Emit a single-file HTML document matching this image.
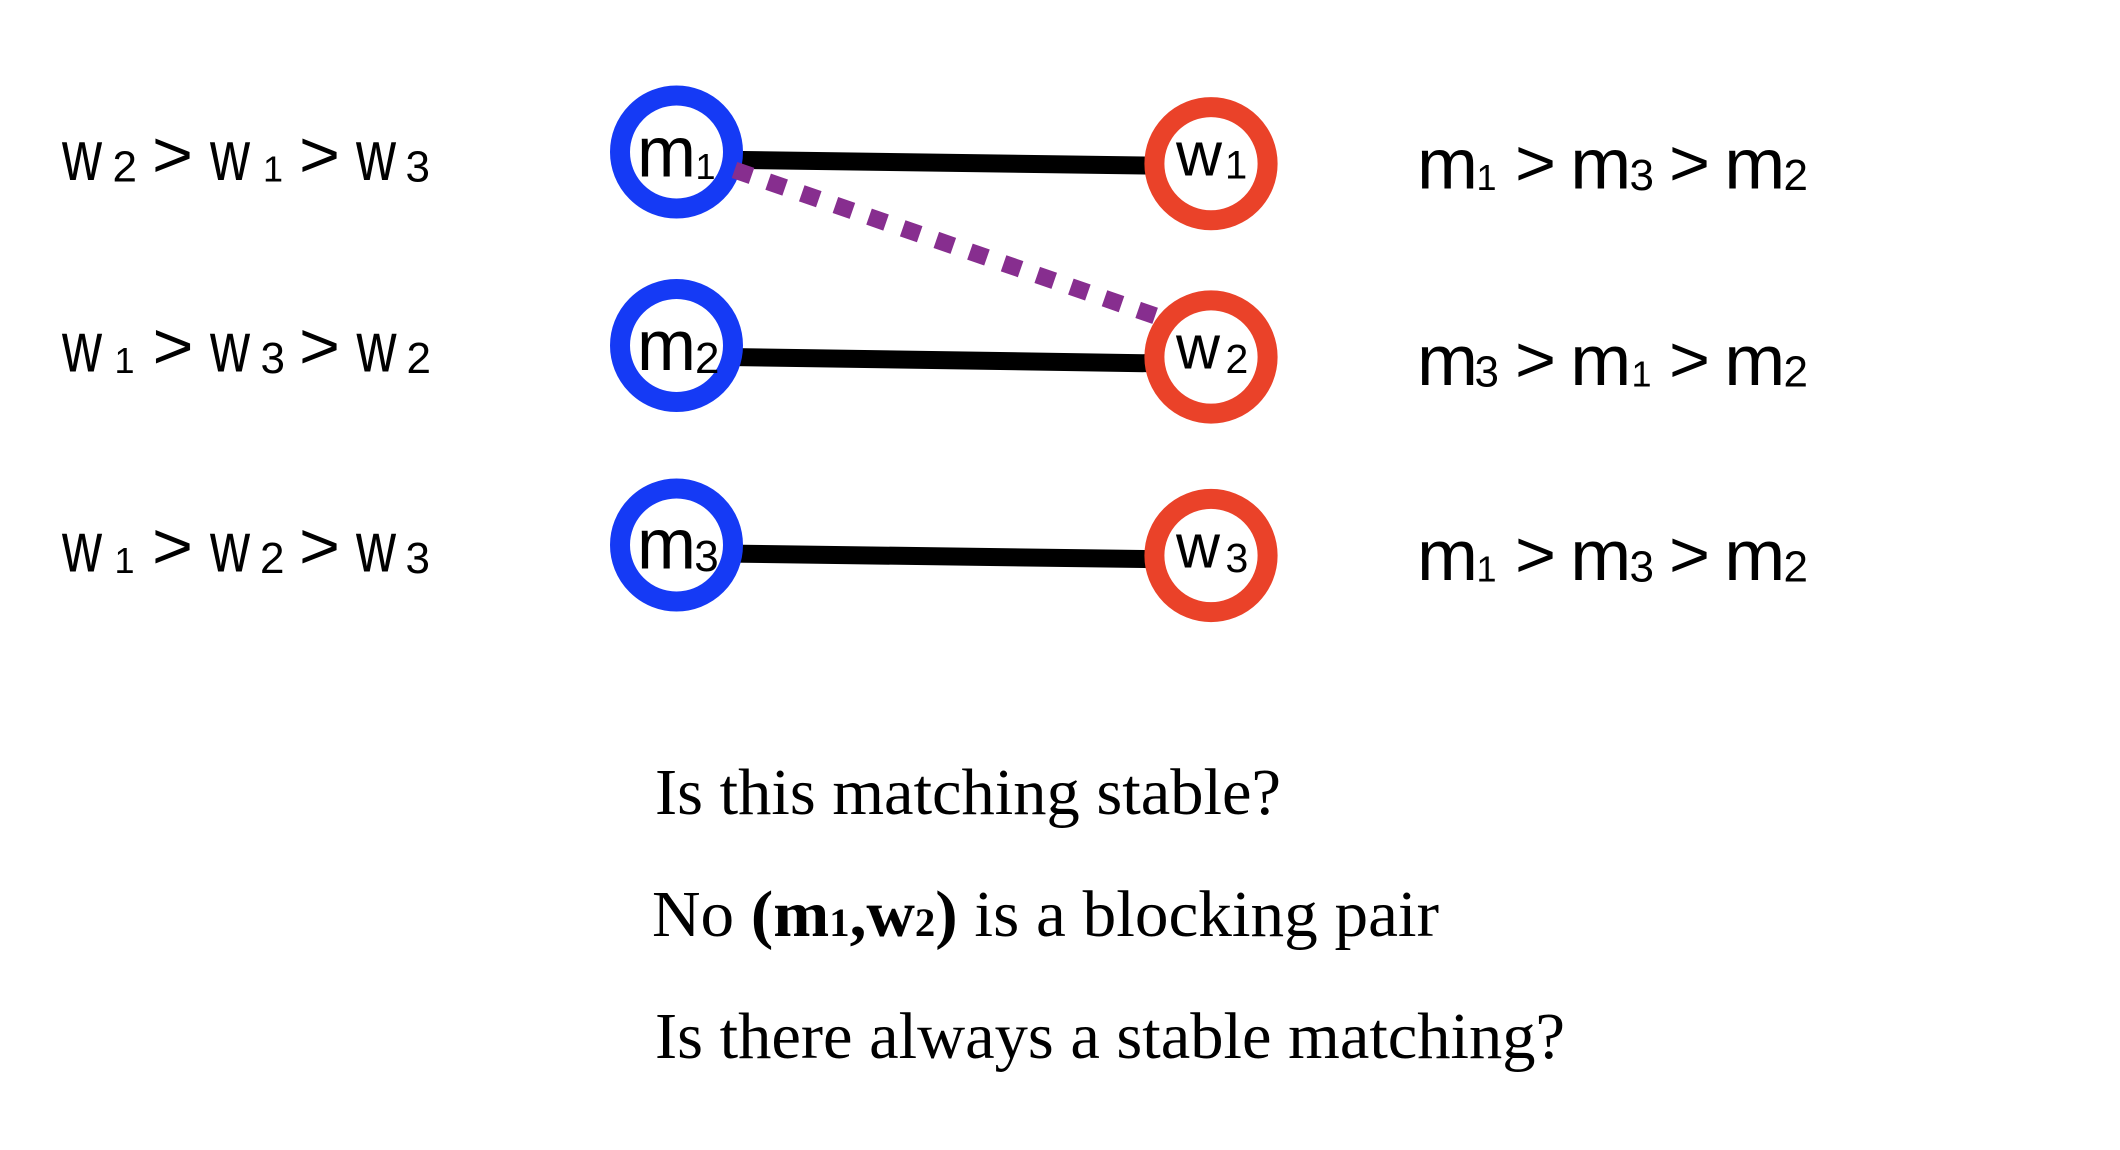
<!DOCTYPE html>
<html>
<head>
<meta charset="utf-8">
<style>
  html, body { margin: 0; padding: 0; background: #ffffff; }
  body { width: 2120px; height: 1150px; overflow: hidden; }
  svg { display: block; }
  .s { font-family: "Liberation Sans", Arial, sans-serif; fill: #000; }
  .L { font-size: 71px; }
  .LW { font-size: 62px; }
  .D { font-size: 44px; }
  .DW { font-size: 41px; }
  .O { font-size: 36px; }
  .OW { font-size: 40px; }
  .G { font-size: 66px; }
  .t { font-family: "Liberation Serif", "Times New Roman", serif; font-size: 66px; fill: #000; }
</style>
</head>
<body>
<svg width="2120" height="1150" viewBox="0 0 2120 1150" xmlns="http://www.w3.org/2000/svg">
  <rect x="0" y="0" width="2120" height="1150" fill="#ffffff"/>

  <!-- matching edges -->
  <line x1="676.5" y1="159.1" x2="1211" y2="166.4" stroke="#000" stroke-width="18"/>
  <line x1="676.5" y1="356.2" x2="1211" y2="364.2" stroke="#000" stroke-width="18"/>
  <line x1="676.5" y1="552.9" x2="1211" y2="559.9" stroke="#000" stroke-width="18"/>

  <!-- m nodes -->
  <circle cx="676.5" cy="152" r="56.5" fill="#ffffff" stroke="#153AF5" stroke-width="20"/>
  <circle cx="676.5" cy="345.5" r="56.5" fill="#ffffff" stroke="#153AF5" stroke-width="20"/>
  <circle cx="676.5" cy="545" r="56.5" fill="#ffffff" stroke="#153AF5" stroke-width="20"/>

  <!-- blocking pair dotted line -->
  <line x1="734.5" y1="170" x2="1162" y2="318.2" stroke="#872E8F" stroke-width="17" stroke-dasharray="18 17.6"/>

  <!-- w nodes -->
  <circle cx="1211" cy="163.7" r="56.6" fill="#ffffff" stroke="#EA4229" stroke-width="20"/>
  <circle cx="1211" cy="357" r="56.6" fill="#ffffff" stroke="#EA4229" stroke-width="20"/>
  <circle cx="1211" cy="555.5" r="56.6" fill="#ffffff" stroke="#EA4229" stroke-width="20"/>

  <!-- node labels: m -->
  <text class="s L" x="637" y="176.7" textLength="59" lengthAdjust="spacingAndGlyphs">m</text>
  <text class="s O" x="695.5" y="179">1</text>
  <text class="s L" x="637" y="370" textLength="59" lengthAdjust="spacingAndGlyphs">m</text>
  <text class="s D" x="695" y="373">2</text>
  <text class="s L" x="637" y="568.3" textLength="59" lengthAdjust="spacingAndGlyphs">m</text>
  <text class="s D" x="694.2" y="571">3</text>

  <!-- node labels: w -->
  <text class="s LW" x="1176" y="175.5" textLength="46" lengthAdjust="spacingAndGlyphs">w</text>
  <text class="s OW" x="1225" y="178.5">1</text>
  <text class="s LW" x="1176" y="368.3" textLength="44" lengthAdjust="spacingAndGlyphs">w</text>
  <text class="s DW" x="1225.5" y="373">2</text>
  <text class="s LW" x="1176" y="567.3" textLength="44" lengthAdjust="spacingAndGlyphs">w</text>
  <text class="s DW" x="1225.5" y="572">3</text>

  <!-- left preference lists -->
  <!-- row 1: w2 > w1 > w3 -->
  <text class="s L" x="62" y="180" textLength="40" lengthAdjust="spacingAndGlyphs">w</text>
  <text class="s D" x="112.5" y="181.5">2</text>
  <text class="s G" x="152" y="177" textLength="41" lengthAdjust="spacingAndGlyphs">&gt;</text>
  <text class="s L" x="210" y="180" textLength="40" lengthAdjust="spacingAndGlyphs">w</text>
  <text class="s O" x="263" y="181.5">1</text>
  <text class="s G" x="299" y="177" textLength="41" lengthAdjust="spacingAndGlyphs">&gt;</text>
  <text class="s L" x="356" y="180" textLength="40" lengthAdjust="spacingAndGlyphs">w</text>
  <text class="s D" x="405.5" y="181.5">3</text>

  <!-- row 2: w1 > w3 > w2 -->
  <text class="s L" x="62" y="371.7" textLength="40" lengthAdjust="spacingAndGlyphs">w</text>
  <text class="s O" x="114.5" y="373.2">1</text>
  <text class="s G" x="152.5" y="368.7" textLength="41" lengthAdjust="spacingAndGlyphs">&gt;</text>
  <text class="s L" x="210" y="371.7" textLength="40" lengthAdjust="spacingAndGlyphs">w</text>
  <text class="s D" x="260.5" y="373.2">3</text>
  <text class="s G" x="299" y="368.7" textLength="41" lengthAdjust="spacingAndGlyphs">&gt;</text>
  <text class="s L" x="356.5" y="371.7" textLength="40" lengthAdjust="spacingAndGlyphs">w</text>
  <text class="s D" x="406.5" y="373.2">2</text>

  <!-- row 3: w1 > w2 > w3 -->
  <text class="s L" x="62" y="571.7" textLength="40" lengthAdjust="spacingAndGlyphs">w</text>
  <text class="s O" x="114.5" y="573.2">1</text>
  <text class="s G" x="152" y="568.7" textLength="41" lengthAdjust="spacingAndGlyphs">&gt;</text>
  <text class="s L" x="210" y="571.7" textLength="40" lengthAdjust="spacingAndGlyphs">w</text>
  <text class="s D" x="260" y="573.2">2</text>
  <text class="s G" x="299" y="568.7" textLength="41" lengthAdjust="spacingAndGlyphs">&gt;</text>
  <text class="s L" x="356" y="571.7" textLength="40" lengthAdjust="spacingAndGlyphs">w</text>
  <text class="s D" x="405.5" y="573.2">3</text>

  <!-- right preference lists -->
  <!-- row 1: m1 > m3 > m2 -->
  <text class="s L" x="1417" y="188.3" textLength="61" lengthAdjust="spacingAndGlyphs">m</text>
  <text class="s O" x="1476.5" y="190">1</text>
  <text class="s G" x="1515" y="185.3" textLength="41" lengthAdjust="spacingAndGlyphs">&gt;</text>
  <text class="s L" x="1570.3" y="188.3" textLength="61" lengthAdjust="spacingAndGlyphs">m</text>
  <text class="s D" x="1629.5" y="190">3</text>
  <text class="s G" x="1669" y="185.3" textLength="41" lengthAdjust="spacingAndGlyphs">&gt;</text>
  <text class="s L" x="1724.3" y="188.3" textLength="61" lengthAdjust="spacingAndGlyphs">m</text>
  <text class="s D" x="1783.5" y="190">2</text>

  <!-- row 2: m3 > m1 > m2 -->
  <text class="s L" x="1417" y="385" textLength="61" lengthAdjust="spacingAndGlyphs">m</text>
  <text class="s D" x="1474.5" y="386.7">3</text>
  <text class="s G" x="1515" y="382" textLength="41" lengthAdjust="spacingAndGlyphs">&gt;</text>
  <text class="s L" x="1570.3" y="385" textLength="61" lengthAdjust="spacingAndGlyphs">m</text>
  <text class="s O" x="1631.5" y="386.7">1</text>
  <text class="s G" x="1669" y="382" textLength="41" lengthAdjust="spacingAndGlyphs">&gt;</text>
  <text class="s L" x="1724.3" y="385" textLength="61" lengthAdjust="spacingAndGlyphs">m</text>
  <text class="s D" x="1783.5" y="386.7">2</text>

  <!-- row 3: m1 > m3 > m2 -->
  <text class="s L" x="1417" y="580" textLength="61" lengthAdjust="spacingAndGlyphs">m</text>
  <text class="s O" x="1476.5" y="581.7">1</text>
  <text class="s G" x="1515" y="577" textLength="41" lengthAdjust="spacingAndGlyphs">&gt;</text>
  <text class="s L" x="1570.3" y="580" textLength="61" lengthAdjust="spacingAndGlyphs">m</text>
  <text class="s D" x="1629.5" y="581.7">3</text>
  <text class="s G" x="1669" y="577" textLength="41" lengthAdjust="spacingAndGlyphs">&gt;</text>
  <text class="s L" x="1724.3" y="580" textLength="61" lengthAdjust="spacingAndGlyphs">m</text>
  <text class="s D" x="1783.5" y="581.7">2</text>

  <!-- bottom questions -->
  <text class="t" x="655" y="814" textLength="626" lengthAdjust="spacingAndGlyphs">Is this matching stable?</text>
  <text class="t" x="652" y="936" textLength="787" lengthAdjust="spacingAndGlyphs">No <tspan font-weight="bold">(m</tspan><tspan font-weight="bold" font-size="40">1</tspan><tspan font-weight="bold">,w</tspan><tspan font-weight="bold" font-size="40">2</tspan><tspan font-weight="bold">)</tspan> is a blocking pair</text>
  <text class="t" x="655" y="1058" textLength="910" lengthAdjust="spacingAndGlyphs">Is there always a stable matching?</text>
</svg>
</body>
</html>
